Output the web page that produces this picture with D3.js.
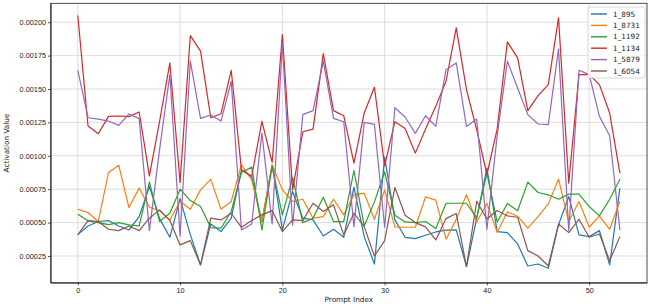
<!DOCTYPE html>
<html>
<head>
<meta charset="utf-8">
<script src="https://cdn.jsdelivr.net/npm/d3@7"></script>
<style>
  body { margin: 0; background: #fff; }
  svg { display: block; font-family: "DejaVu Sans", sans-serif; }
  .grid line { stroke: #d4d4d4; stroke-width: 0.8; }
  .axis text { font-size: 7.3px; fill: #222; }
  .axis path, .axis line { stroke: #222; stroke-width: 0.8; }
  .series { fill: none; stroke-width: 1.2; stroke-linejoin: round; }
</style>
</head>
<body>
<div id="chart"></div>
<script>
// Series names and colours (matplotlib tab10)
const seriesNames = ['1_895', '1_8731', '1_1192', '1_1134', '1_5879', '1_6054'];
const seriesColors = ['#1f77b4', '#ff7f0e', '#2ca02c', '#d62728', '#9467bd', '#8c564b'];

const xTicks = [0, 10, 20, 30, 40, 50];
const yTicks = [0.00025, 0.0005, 0.00075, 0.001, 0.00125, 0.0015, 0.00175, 0.002];

// Values, prompt index 0..53
const s895 = [
  0.00041, 0.000475, 0.000508, 0.000515, 0.000475, 0.000445, 0.000545, 0.00077, 0.00053, 0.00039,
  0.00068, 0.00041, 0.000183, 0.00049, 0.000433, 0.000533, 0.000895, 0.000845, 0.000508, 0.000933,
  0.000445, 0.000733, 0.000533, 0.00052, 0.0004, 0.00045, 0.00039, 0.000765, 0.000395, 0.00019,
  0.00099, 0.00052, 0.00039, 0.00038, 0.000405, 0.00043, 0.000443, 0.000445, 0.00017, 0.000533,
  0.000908, 0.000433, 0.000425, 0.00034, 0.000175, 0.00019, 0.000158, 0.000483, 0.000695, 0.000408,
  0.000395, 0.00044, 0.000183, 0.000758
];
const s8731 = [
  0.0006, 0.000575, 0.000508, 0.000875, 0.00093, 0.000613, 0.000758, 0.000615, 0.000588, 0.00052,
  0.00066, 0.0006, 0.000745, 0.000825, 0.0006, 0.000658, 0.000933, 0.00082, 0.000508, 0.000933,
  0.000745, 0.000658, 0.000675, 0.000533, 0.000545, 0.000675, 0.000558, 0.000708, 0.00072, 0.000525,
  0.000745, 0.000468, 0.000465, 0.000465, 0.000693, 0.000668, 0.000376, 0.000524, 0.000709, 0.000505,
  0.000643, 0.000427, 0.00058, 0.000548, 0.000458, 0.000545, 0.00064, 0.000825, 0.000508, 0.000658,
  0.000465, 0.00055, 0.00045, 0.000658
];
const s1192 = [
  0.000563, 0.000513, 0.0005, 0.000485, 0.0005, 0.000483, 0.000475, 0.000803, 0.000508, 0.00057,
  0.00075, 0.000665, 0.00062, 0.000463, 0.000458, 0.000583, 0.000875, 0.000915, 0.000445, 0.00092,
  0.000558, 0.000838, 0.0005, 0.000533, 0.00069, 0.000508, 0.000508, 0.00089, 0.000475, 0.000655,
  0.00088, 0.000555, 0.000505, 0.0005, 0.000508, 0.000455, 0.000645, 0.000645, 0.000645, 0.000535,
  0.000868, 0.000505, 0.000643, 0.000589, 0.000803, 0.000725, 0.000708, 0.000675, 0.000713, 0.000713,
  0.00062, 0.00055, 0.000675, 0.000825
];
const s1134 = [
  0.00205, 0.001223, 0.001165, 0.001295, 0.001298, 0.001293, 0.001328, 0.00085, 0.00126, 0.001695,
  0.0008, 0.0019, 0.001783, 0.001285, 0.001315, 0.00164, 0.000895, 0.000845, 0.001258, 0.00095,
  0.001908, 0.000745, 0.00118, 0.0012, 0.001765, 0.001338, 0.0013, 0.000945, 0.00132, 0.001513,
  0.000925, 0.001255, 0.001205, 0.00102, 0.0012, 0.00137, 0.001558, 0.001958, 0.001495, 0.001195,
  0.00086, 0.0012, 0.001853, 0.001733, 0.001338, 0.00145, 0.001533, 0.002033, 0.000795, 0.001608,
  0.001608, 0.001533, 0.00132, 0.00087
];
const s5879 = [
  0.00164, 0.001285, 0.001275, 0.00126, 0.001228, 0.001313, 0.001278, 0.00044, 0.00105, 0.001608,
  0.0004, 0.001708, 0.00128, 0.001305, 0.00126, 0.001558, 0.000445, 0.00049, 0.00117, 0.00049,
  0.001845, 0.00048, 0.001308, 0.001338, 0.001708, 0.00128, 0.001255, 0.00047, 0.00125, 0.001235,
  0.000465, 0.00136, 0.00129, 0.001168, 0.0013, 0.00122, 0.001645, 0.001695, 0.00122, 0.001275,
  0.00045, 0.00115, 0.001708, 0.001508, 0.001308, 0.001238, 0.001233, 0.0018, 0.00044, 0.00164,
  0.001608, 0.001295, 0.00115, 0.000445
];
const s6054 = [
  0.000408, 0.000515, 0.000508, 0.00045, 0.00044, 0.000475, 0.00044, 0.000533, 0.000595, 0.000515,
  0.000333, 0.000365, 0.000183, 0.000533, 0.00052, 0.00057, 0.000465, 0.000515, 0.000558, 0.00059,
  0.000433, 0.00052, 0.000515, 0.000645, 0.000583, 0.000633, 0.000408, 0.00057, 0.00047, 0.00025,
  0.000365, 0.000763, 0.000555, 0.0005, 0.000468, 0.00037, 0.00053, 0.000568, 0.00017, 0.00066,
  0.000527, 0.00059, 0.00055, 0.00054, 0.00029, 0.00025, 0.000175, 0.00049, 0.000425, 0.000525,
  0.00039, 0.000415, 0.000215, 0.000395
];

const seriesValues = [s895, s8731, s1192, s1134, s5879, s6054];

const W = 650, H = 308;
const plot = { left: 50.7, right: 647, top: 3.3, bottom: 282.7 };

const svg = d3.select('#chart')
    .append('svg')
    .attr('width', W)
    .attr('height', H);

// Scales (matplotlib-like 5% margins on x)
const x = d3.scaleLinear()
    .domain([-2.65, 55.65])
    .range([plot.left, plot.right]);

const y = d3.scaleLinear()
    .domain([0.0000501, 0.0021415])
    .range([plot.bottom, plot.top]);

// Grid
const grid = svg.append('g').attr('class', 'grid');
grid.selectAll('line.gx')
    .data(xTicks)
    .enter()
    .append('line')
    .attr('x1', d => x(d)).attr('x2', d => x(d))
    .attr('y1', plot.top).attr('y2', plot.bottom);
grid.selectAll('line.gy')
    .data(yTicks)
    .enter()
    .append('line')
    .attr('x1', plot.left).attr('x2', plot.right)
    .attr('y1', d => y(d)).attr('y2', d => y(d));

// Lines
const line = d3.line()
    .x((d, i) => x(i))
    .y(d => y(d));

svg.append('g')
    .selectAll('path')
    .data(seriesValues)
    .enter()
    .append('path')
    .attr('class', 'series')
    .attr('d', line)
    .style('stroke', (d, i) => seriesColors[i]);

// Axes
svg.append('g')
    .attr('class', 'axis')
    .attr('transform', `translate(0,${plot.bottom})`)
    .call(d3.axisBottom(x).tickValues(xTicks).tickSize(2.7).tickPadding(2).tickSizeOuter(0));

svg.append('g')
    .attr('class', 'axis')
    .attr('transform', `translate(${plot.left},0)`)
    .call(d3.axisLeft(y).tickValues(yTicks).tickFormat(d3.format('.5f')).tickSize(2.7).tickPadding(2).tickSizeOuter(0));

// Frame
svg.append('rect')
    .attr('x', plot.left)
    .attr('y', plot.top)
    .attr('width', plot.right - plot.left)
    .attr('height', plot.bottom - plot.top)
    .attr('fill', 'none')
    .attr('stroke', '#222')
    .attr('stroke-width', 0.8);

// Axis labels
svg.append('text')
    .attr('x', (plot.left + plot.right) / 2)
    .attr('y', 302)
    .attr('text-anchor', 'middle')
    .style('font-size', '7.3px')
    .style('fill', '#222')
    .text('Prompt Index');

svg.append('text')
    .attr('transform', `translate(9,${(plot.top + plot.bottom) / 2}) rotate(-90)`)
    .attr('text-anchor', 'middle')
    .style('font-size', '7.3px')
    .style('fill', '#222')
    .text('Activation Value');

// Legend
const legend = svg.append('g')
    .attr('transform', 'translate(588,7)');

legend.append('rect')
    .attr('width', 57)
    .attr('height', 71)
    .attr('rx', 2)
    .attr('fill', 'rgba(255,255,255,0.85)')
    .attr('stroke', '#cccccc')
    .attr('stroke-width', 0.8);

seriesNames.forEach((name, i) => {
    const item = legend.append('g')
        .attr('transform', `translate(0, ${7 + i * 11.4})`);

    item.append('line')
        .attr('x1', 3).attr('x2', 19)
        .attr('y1', 0).attr('y2', 0)
        .style('stroke', seriesColors[i])
        .style('stroke-width', 1.4);

    item.append('text')
        .attr('x', 25)
        .attr('y', 2.6)
        .style('font-size', '7.3px')
        .style('fill', '#222')
        .text(name);
});
</script>
</body>
</html>
